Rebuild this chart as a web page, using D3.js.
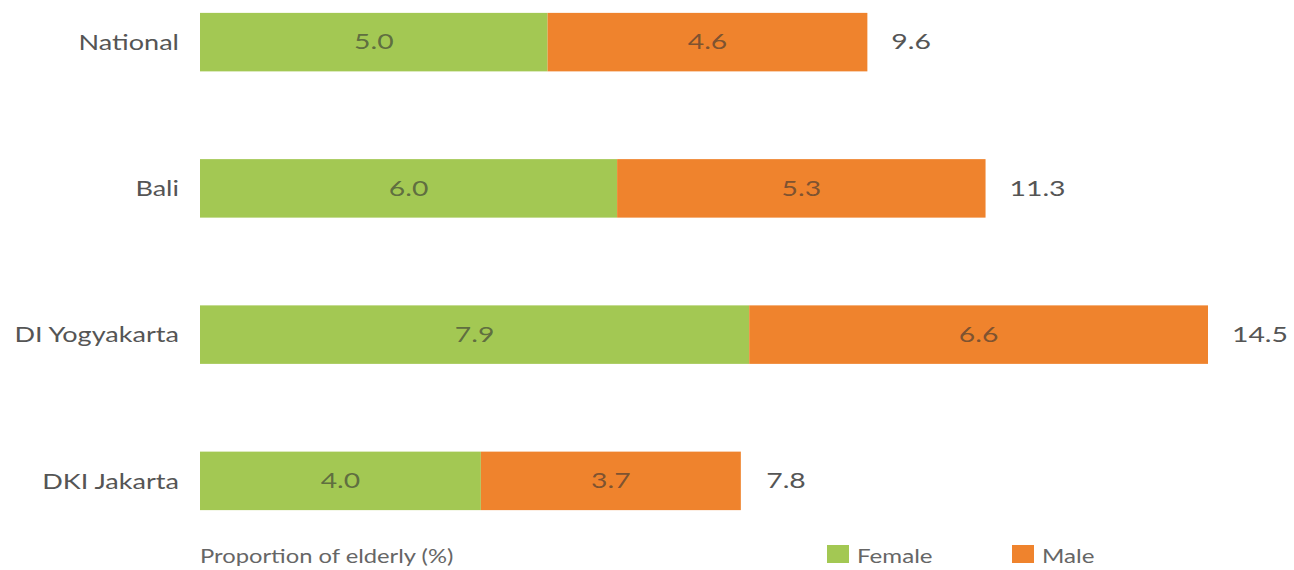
<!DOCTYPE html>
<html>
<head>
<meta charset="utf-8">
<script src="https://cdn.jsdelivr.net/npm/d3@7"></script>
<style>
  html, body { margin: 0; padding: 0; background: #fff; }
  svg { display: block; }
  text { font-family: Lato, "Open Sans", sans-serif; }
</style>
</head>
<body>
<svg id="chart" width="1294" height="570"></svg>
<script>
const categories = ["National", "Bali", "DI Yogyakarta", "DKI Jakarta"];
const female = [5.0, 6.0, 7.9, 4.04];
const male = [4.6, 5.3, 6.6, 3.74];
const totals = [9.6, 11.3, 14.5, 7.8];
const seriesNames = ["Female", "Male"];
const axisTitle = "Proportion of elderly (%)";

const colors = { Female: "#a3c853", Male: "#ef832d" };

const svg = d3.select("#chart");
const x = d3.scaleLinear().domain([0, 14.5]).range([200, 1208]);
const y = d3.scaleBand().domain(categories).range([-31, 554]).paddingInner(0.6).paddingOuter(0.3);

const rows = categories.map((c, i) => ({ cat: c, Female: female[i], Male: male[i], total: totals[i] }));
const stack = d3.stack().keys(seriesNames)(rows);

const fmt = d3.format(".1f");
const SX_TEXT = 1.23;
const SX_NUM = 1.35;
const tf = (px, py, sx) => `translate(${px},${py}) scale(${sx},1)`;

stack.forEach(layer => {
  const g = svg.append("g");
  g.selectAll("rect").data(layer).join("rect")
    .attr("x", d => x(d[0]))
    .attr("y", d => y(d.data.cat))
    .attr("width", d => x(d[1]) - x(d[0]))
    .attr("height", y.bandwidth())
    .attr("fill", colors[layer.key]);
  g.selectAll("text").data(layer).join("text")
    .attr("transform", d => tf((x(d[0]) + x(d[1])) / 2, y(d.data.cat) + y.bandwidth() / 2, SX_NUM))
    .attr("dy", "0.35em")
    .attr("text-anchor", "middle")
    .attr("font-size", 21)
    .attr("fill", "#333")
    .attr("fill-opacity", 0.62)
    .text(d => fmt(d.data[layer.key]));
});

// category labels
svg.append("g").selectAll("text").data(rows).join("text")
  .attr("transform", d => tf(179, y(d.cat) + y.bandwidth() / 2, SX_TEXT))
  .attr("dy", "0.35em")
  .attr("text-anchor", "end")
  .attr("font-size", 22)
  .attr("fill", "#555")
  .text(d => d.cat);

// totals
svg.append("g").selectAll("text").data(rows).join("text")
  .attr("transform", d => tf(x(d.total) + 24, y(d.cat) + y.bandwidth() / 2, SX_NUM))
  .attr("dy", "0.35em")
  .attr("font-size", 21)
  .attr("fill", "#555")
  .text(d => fmt(d.total));

// axis title
svg.append("text")
  .attr("transform", tf(200, 563, 1.25))
  .attr("font-size", 19)
  .attr("fill", "#666")
  .text(axisTitle);

// legend
const legendX = [827, 1012];
const lg = svg.append("g").selectAll("g").data(seriesNames).join("g")
  .attr("transform", (d, i) => `translate(${legendX[i]},545)`);
lg.append("rect").attr("width", 22).attr("height", 18).attr("fill", d => colors[d]);
lg.append("text").attr("transform", tf(30, 18, 1.27)).attr("font-size", 19).attr("fill", "#666").text(d => d);
</script>
</body>
</html>
